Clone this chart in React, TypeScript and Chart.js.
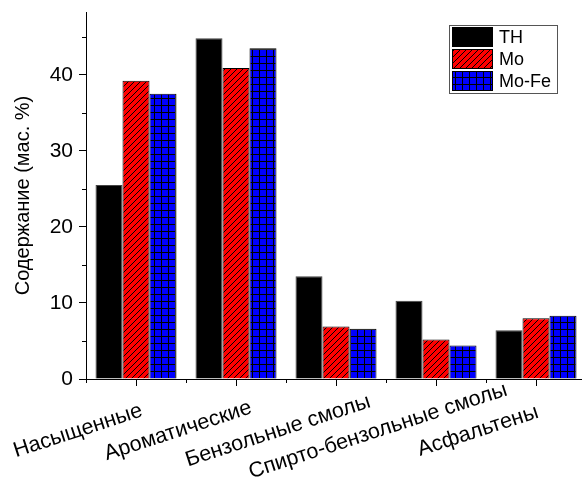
import React, { useEffect, useRef } from 'react';
import { Chart, registerables } from 'chart.js';

Chart.register(...registerables);

const categories = ['Насыщенные', 'Ароматические', 'Бензольные смолы', 'Спирто-бензольные смолы', 'Асфальтены'];
const seriesNames = ['TH', 'Mo', 'Mo-Fe'];
const thValues = [25.5, 44.8, 13.5, 10.3, 6.4];
const moValues = [39.2, 40.9, 6.9, 5.2, 8.0];
const moFeValues = [37.5, 43.5, 6.6, 4.4, 8.3];
const yMajorTicks = [0, 10, 20, 30, 40];
const yMinorTicks = [5, 15, 25, 35, 45];
const yTitle = 'Содержание (мас. %)';

const FONT = '"Liberation Sans", Arial, sans-serif';

function makeHatch(): CanvasPattern | string {
  const c = document.createElement('canvas');
  c.width = 6;
  c.height = 6;
  const g = c.getContext('2d');
  if (!g) return '#ff0000';
  g.fillStyle = '#ff0000';
  g.fillRect(0, 0, 6, 6);
  g.strokeStyle = '#000';
  g.lineWidth = 1;
  g.beginPath();
  g.moveTo(-1, 7);
  g.lineTo(7, -1);
  g.moveTo(-4, 4);
  g.lineTo(4, -4);
  g.moveTo(2, 10);
  g.lineTo(10, 2);
  g.stroke();
  return g.createPattern(c, 'repeat') || '#ff0000';
}

function makeGrid(): CanvasPattern | string {
  const c = document.createElement('canvas');
  c.width = 7;
  c.height = 7;
  const g = c.getContext('2d');
  if (!g) return '#0000ff';
  g.fillStyle = '#0000ff';
  g.fillRect(0, 0, 7, 7);
  g.fillStyle = '#000';
  g.fillRect(0, 0, 7, 1);
  g.fillRect(0, 0, 1, 7);
  return g.createPattern(c, 'repeat') || '#0000ff';
}

const minorTicksPlugin = {
  id: 'minorTicks',
  afterDraw(chart: any) {
    const ctx = chart.ctx;
    const xs = chart.scales.x;
    const ys = chart.scales.y;
    ctx.save();
    ctx.strokeStyle = '#000';
    ctx.lineWidth = 1;
    ctx.beginPath();
    yMinorTicks.forEach((v) => {
      const py = Math.round(ys.getPixelForValue(v)) + 0.5;
      ctx.moveTo(xs.left - 4, py);
      ctx.lineTo(xs.left, py);
    });
    for (let i = 0; i <= categories.length; i++) {
      const px = Math.round(xs.getPixelForValue(i - 0.5)) + 0.5;
      ctx.moveTo(px, ys.bottom);
      ctx.lineTo(px, ys.bottom + 4);
    }
    ctx.stroke();
    ctx.restore();
  },
};

// category labels drawn centred on a point below-left of each tick, rotated
const xLabelsPlugin = {
  id: 'xLabels',
  afterDraw(chart: any) {
    const ctx = chart.ctx;
    const xs = chart.scales.x;
    const labels: string[] = chart.data.labels;
    ctx.save();
    ctx.font = `21.5px ${FONT}`;
    ctx.fillStyle = '#000';
    ctx.textAlign = 'center';
    ctx.textBaseline = 'middle';
    labels.forEach((lab, i) => {
      const px = xs.getPixelForValue(i);
      ctx.save();
      ctx.translate(px - 58, xs.top + 52);
      ctx.rotate((-18 * Math.PI) / 180);
      ctx.fillText(lab, 0, 0);
      ctx.restore();
    });
    ctx.restore();
  },
};

const legendPlugin = {
  id: 'boxLegend',
  afterDraw(chart: any) {
    const ctx = chart.ctx;
    const area = chart.chartArea;
    const ds = chart.data.datasets;
    const boxX = area.left + 363;
    const boxY = area.top + 13;
    const boxW = 108;
    const rowH = 22;
    const boxH = ds.length * rowH + 2;
    ctx.save();
    ctx.fillStyle = '#fff';
    ctx.fillRect(boxX, boxY, boxW, boxH);
    ctx.strokeStyle = '#555';
    ctx.lineWidth = 1;
    ctx.strokeRect(boxX + 0.5, boxY + 0.5, boxW, boxH);
    ctx.font = `18px ${FONT}`;
    ctx.textBaseline = 'middle';
    ctx.textAlign = 'left';
    ds.forEach((d: any, i: number) => {
      const sy = boxY + 2 + i * rowH;
      ctx.fillStyle = d.backgroundColor;
      ctx.fillRect(boxX + 3, sy, 41, 20);
      ctx.strokeStyle = '#000';
      ctx.strokeRect(boxX + 3.5, sy + 0.5, 40, 19);
      ctx.fillStyle = '#000';
      ctx.fillText(d.label, boxX + 50, sy + 11);
    });
    ctx.restore();
  },
};

export default function App() {
  const ref = useRef<HTMLCanvasElement | null>(null);

  useEffect(() => {
    if (!ref.current) return;
    const hatch = makeHatch();
    const grid = makeGrid();
    const chart = new Chart(ref.current, {
      type: 'bar',
      data: {
        labels: categories,
        datasets: [
          { label: seriesNames[0], data: thValues, backgroundColor: '#000', borderColor: '#444', borderWidth: 1 },
          { label: seriesNames[1], data: moValues, backgroundColor: hatch as any, borderColor: '#000', borderWidth: 1 },
          { label: seriesNames[2], data: moFeValues, backgroundColor: grid as any, borderColor: '#000', borderWidth: 1 },
        ],
      },
      options: {
        animation: false,
        responsive: false,
        devicePixelRatio: 1,
        layout: { padding: { top: 12, right: 14, left: 0, bottom: 0 } },
        datasets: { bar: { categoryPercentage: 0.81, barPercentage: 1 } },
        plugins: { legend: { display: false }, tooltip: { enabled: false } },
        scales: {
          x: {
            offset: true,
            grid: { offset: false, drawOnChartArea: false, drawTicks: true, tickLength: 7, tickColor: '#000', tickWidth: 1 },
            border: { display: true, color: '#000', width: 1 },
            ticks: { display: false, autoSkip: false },
            afterFit: (s: any) => {
              s.height = 102;
              s.paddingLeft = 0;
              s.paddingRight = 0;
            },
          },
          y: {
            min: 0,
            max: 48.25,
            grid: { drawOnChartArea: false, drawTicks: true, tickLength: 7, tickColor: '#000', tickWidth: 1 },
            border: { display: true, color: '#000', width: 1 },
            ticks: { color: '#000', padding: 6, font: { family: FONT, size: 21 } },
            afterBuildTicks: (s: any) => { s.ticks = yMajorTicks.map((v) => ({ value: v })); },
            title: { display: true, text: yTitle, color: '#000', font: { family: FONT, size: 20 }, padding: { top: 11, bottom: 0 } },
            afterFit: (s: any) => {
              s.width = 86;
              s.paddingTop = 0;
              s.paddingBottom = 0;
            },
          },
        },
      },
      plugins: [minorTicksPlugin, xLabelsPlugin, legendPlugin],
    });
    return () => chart.destroy();
  }, []);

  return (
    <div style={{ position: 'absolute', left: 0, top: 0, width: 582, height: 481, overflow: 'hidden', background: '#fff' }}>
      <canvas ref={ref} width={600} height={481} style={{ width: 600, height: 481, display: 'block' }} />
    </div>
  );
}
